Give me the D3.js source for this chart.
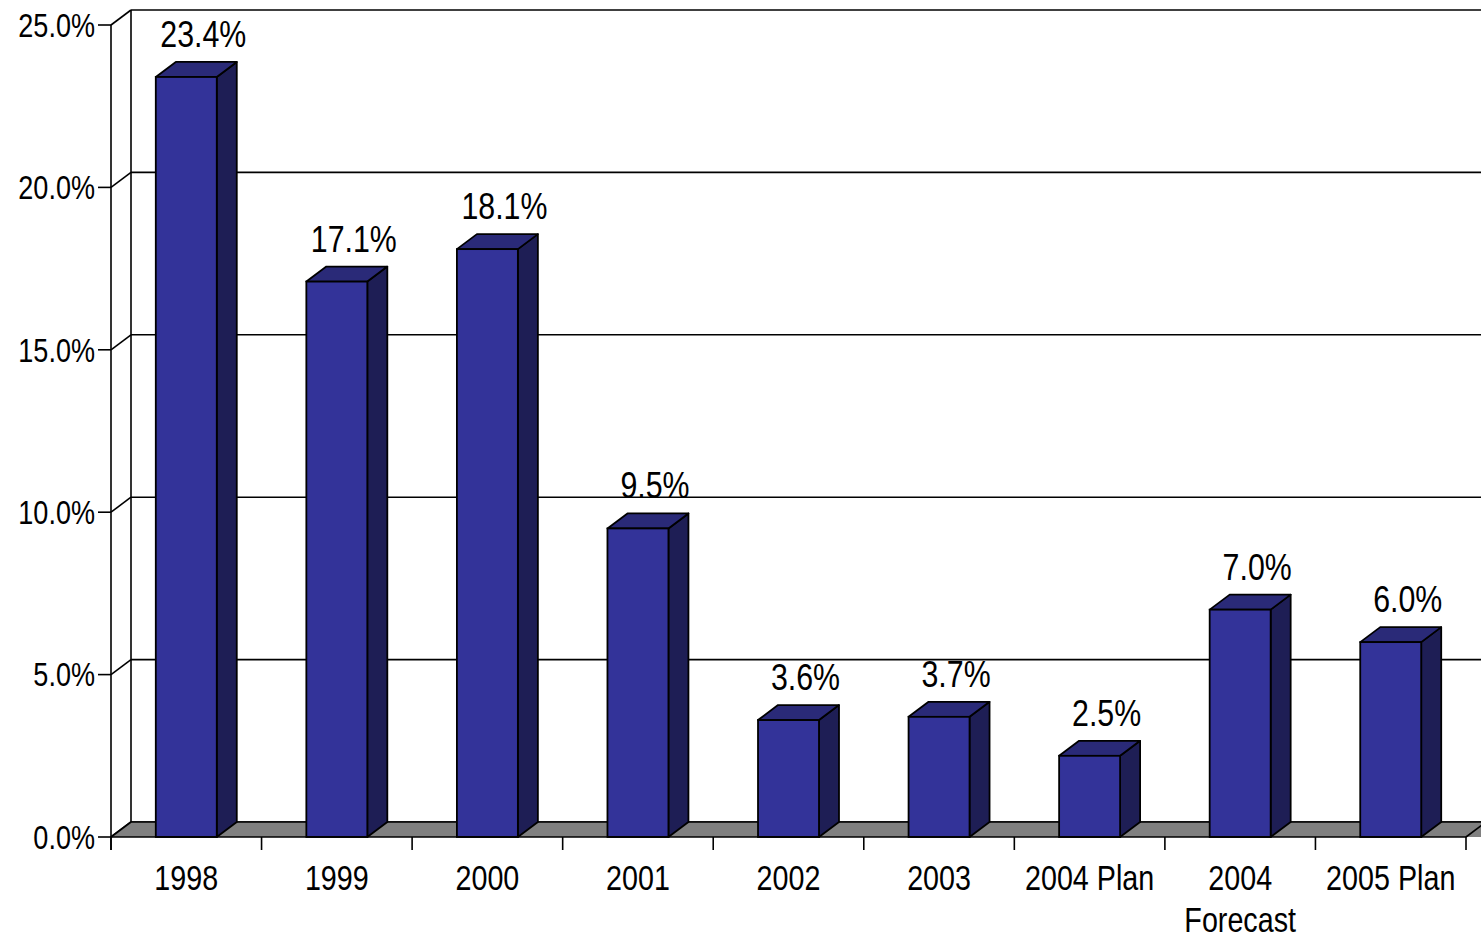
<!DOCTYPE html>
<html>
<head>
<meta charset="utf-8">
<script src="https://cdn.jsdelivr.net/npm/d3@7"></script>
<style>
  html, body { margin: 0; padding: 0; background: #fff; }
  svg { display: block; }
  text { font-family: "Liberation Sans", Arial, sans-serif; fill: #000; }
</style>
</head>
<body>
<svg id="chart" width="1481" height="940"></svg>
<script>
// ---- data ----
const categories = ["1998", "1999", "2000", "2001", "2002", "2003", "2004 Plan", "2004 Forecast", "2005 Plan"];
const categoryLabels = [["1998"], ["1999"], ["2000"], ["2001"], ["2002"], ["2003"], ["2004 Plan"], ["2004", "Forecast"], ["2005 Plan"]];
const values = [23.4, 17.1, 18.1, 9.5, 3.6, 3.7, 2.5, 7.0, 6.0];
const valueLabels = ["23.4%", "17.1%", "18.1%", "9.5%", "3.6%", "3.7%", "2.5%", "7.0%", "6.0%"];
const yTicks = [0, 5, 10, 15, 20, 25];
const yTickLabels = ["0.0%", "5.0%", "10.0%", "15.0%", "20.0%", "25.0%"];

// ---- layout ----
const W = 1481, H = 940;
const mLeft = 111, mRight = 1466, mTop = 25, mBottom = 837;
const DX = 20, DY = 15; // 3D depth offset
const NARROW = 0.82;     // horizontal condensing to mimic a narrow face

const svg = d3.select("#chart");

const x = d3.scaleBand().domain(categories).range([mLeft, mRight]).paddingInner(0).paddingOuter(0);
const y = d3.scaleLinear().domain([0, 25]).range([mBottom, mTop]);
const barW = x.bandwidth() * 0.405;

const frontColor = "#333399";
const topColor = "#2a2a78";
const sideColor = "#1e1e55";

// back wall gridlines
svg.append("g").selectAll("line").data(yTicks).join("line")
  .attr("x1", mLeft + DX).attr("x2", W + 5)
  .attr("y1", d => y(d) - DY).attr("y2", d => y(d) - DY)
  .attr("stroke", "#000").attr("stroke-width", 1.6);

// back wall left edge
svg.append("line")
  .attr("x1", mLeft + DX).attr("x2", mLeft + DX)
  .attr("y1", y(25) - DY).attr("y2", y(0) - DY)
  .attr("stroke", "#000").attr("stroke-width", 1.6);

// side wall diagonals
svg.append("g").selectAll("line").data(yTicks).join("line")
  .attr("x1", mLeft).attr("x2", mLeft + DX)
  .attr("y1", d => y(d)).attr("y2", d => y(d) - DY)
  .attr("stroke", "#000").attr("stroke-width", 1.6);

// floor
svg.append("path")
  .attr("d", `M${mLeft},${y(0)} L${mLeft + DX},${y(0) - DY} L${mRight + DX + 20},${y(0) - DY} L${mRight + 20},${y(0)} Z`)
  .attr("fill", "#808080");
svg.append("path")
  .attr("d", `M${mRight + DX},${y(0) - DY} L${mRight},${y(0)}`)
  .attr("stroke", "#000").attr("stroke-width", 1.6).attr("fill", "none");
svg.append("line")
  .attr("x1", mLeft + DX).attr("x2", W + 5)
  .attr("y1", y(0) - DY).attr("y2", y(0) - DY)
  .attr("stroke", "#000").attr("stroke-width", 1.6);
svg.append("line")
  .attr("x1", mLeft).attr("x2", mLeft + DX)
  .attr("y1", y(0)).attr("y2", y(0) - DY)
  .attr("stroke", "#000").attr("stroke-width", 1.6);

// bars
const bars = svg.append("g").selectAll("g").data(values).join("g");
bars.each(function (v, i) {
  const g = d3.select(this);
  const x0 = x(categories[i]) + (x.bandwidth() - barW) / 2;
  const x1 = x0 + barW;
  const yt = y(v), yb = y(0);
  g.append("path")
    .attr("d", `M${x1},${yb} L${x1 + DX},${yb - DY} L${x1 + DX},${yt - DY} L${x1},${yt} Z`)
    .attr("fill", sideColor).attr("stroke", "#000").attr("stroke-width", 1.8).attr("stroke-linejoin", "round");
  g.append("path")
    .attr("d", `M${x0},${yt} L${x0 + DX},${yt - DY} L${x1 + DX},${yt - DY} L${x1},${yt} Z`)
    .attr("fill", topColor).attr("stroke", "#000").attr("stroke-width", 1.8).attr("stroke-linejoin", "round");
  g.append("rect")
    .attr("x", x0).attr("y", yt).attr("width", barW).attr("height", yb - yt)
    .attr("fill", frontColor).attr("stroke", "#000").attr("stroke-width", 1.8);
});

// value labels
svg.append("g").selectAll("text").data(values).join("text")
  .attr("transform", (d, i) => `translate(${x(categories[i]) + x.bandwidth() / 2 + 17},${y(d) - DY - 15}) scale(${NARROW},1)`)
  .attr("text-anchor", "middle")
  .attr("font-size", 37)
  .text((d, i) => valueLabels[i]);

// front y axis line
svg.append("line")
  .attr("x1", mLeft).attr("x2", mLeft)
  .attr("y1", y(25)).attr("y2", y(0) + 13)
  .attr("stroke", "#000").attr("stroke-width", 1.6);

// y ticks and labels
svg.append("g").selectAll("line").data(yTicks).join("line")
  .attr("x1", mLeft - 13).attr("x2", mLeft)
  .attr("y1", d => y(d)).attr("y2", d => y(d))
  .attr("stroke", "#000").attr("stroke-width", 1.6);
svg.append("g").selectAll("text").data(yTicks).join("text")
  .attr("transform", d => `translate(${mLeft - 16},${y(d)}) scale(${NARROW},1)`)
  .attr("dy", "0.36em")
  .attr("text-anchor", "end")
  .attr("font-size", 33)
  .text((d, i) => yTickLabels[i]);

// x axis line & ticks
svg.append("line")
  .attr("x1", mLeft).attr("x2", mRight)
  .attr("y1", y(0)).attr("y2", y(0))
  .attr("stroke", "#000").attr("stroke-width", 1.6);
const boundaries = categories.map(c => x(c)).concat([x(categories[categories.length - 1]) + x.bandwidth()]);
svg.append("g").selectAll("line").data(boundaries).join("line")
  .attr("x1", d => d).attr("x2", d => d)
  .attr("y1", y(0)).attr("y2", y(0) + 13)
  .attr("stroke", "#000").attr("stroke-width", 1.6);

// category labels
const cl = svg.append("g").selectAll("text").data(categories).join("text")
  .attr("transform", d => `translate(${x(d) + x.bandwidth() / 2},890) scale(${NARROW},1)`)
  .attr("text-anchor", "middle")
  .attr("font-size", 35);
cl.each(function (d, i) {
  const t = d3.select(this);
  categoryLabels[i].forEach((line, j) => {
    t.append("tspan").attr("x", 0).attr("dy", j === 0 ? 0 : 42).text(line);
  });
});
</script>
</body>
</html>
